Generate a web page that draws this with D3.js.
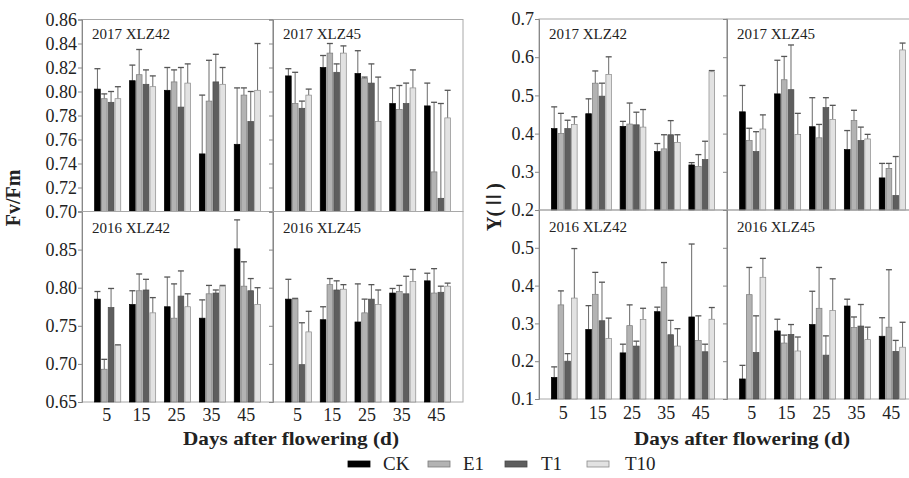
<!DOCTYPE html>
<head>
<meta charset="utf-8">
<style>
body { margin: 0; background: #fff; }
svg text { font-family: "Liberation Serif", "Times New Roman", serif; fill: #222; }
</style>
</head>
<body>
<script src="https://d3js.org/d3.v7.min.js"></script>
<script>
// categories
var days = [5, 15, 25, 35, 45];
var treatments = ["CK", "E1", "T1", "T10"];

// Fv/Fm, rows = CK, E1, T1, T10 ; columns = days
var fv2017_42 = [[0.802, 0.809, 0.801, 0.748, 0.756], [0.794, 0.814, 0.808, 0.792, 0.797], [0.791, 0.806, 0.787, 0.808, 0.775], [0.794, 0.804, 0.807, 0.806, 0.801]];
var fv2017_42sd = [[0.017, 0.013, 0.019, 0.049, 0.047], [0.004, 0.021, 0.010, 0.034, 0.006], [0.009, 0.012, 0.033, 0.023, 0.025], [0.010, 0.009, 0.016, 0.014, 0.039]];
var fv2017_45 = [[0.813, 0.820, 0.815, 0.790, 0.788], [0.790, 0.832, 0.811, 0.785, 0.733], [0.786, 0.816, 0.807, 0.790, 0.711], [0.797, 0.832, 0.775, 0.803, 0.778]];
var fv2017_45sd = [[0.006, 0.010, 0.019, 0.013, 0.019], [0.026, 0.008, 0.001, 0.020, 0.058], [0.006, 0.007, 0.016, 0.017, 0.079], [0.005, 0.006, 0.037, 0.015, 0.023]];
var fv2016_42 = [[0.785, 0.778, 0.775, 0.760, 0.851], [0.693, 0.796, 0.760, 0.792, 0.802], [0.774, 0.797, 0.789, 0.793, 0.796], [0.724, 0.767, 0.775, 0.802, 0.778]];
var fv2016_42sd = [[0.010, 0.018, 0.039, 0.024, 0.038], [0.013, 0.022, 0.045, 0.011, 0.032], [0.025, 0.014, 0.033, 0.004, 0.016], [0.001, 0.020, 0.017, 0.001, 0.022]];
var fv2016_45 = [[0.785, 0.758, 0.755, 0.793, 0.809], [0.785, 0.804, 0.767, 0.795, 0.793], [0.699, 0.797, 0.785, 0.792, 0.794], [0.742, 0.798, 0.778, 0.808, 0.802]];
var fv2016_45sd = [[0.026, 0.017, 0.050, 0.006, 0.010], [0.001, 0.008, 0.018, 0.008, 0.032], [0.055, 0.012, 0.019, 0.023, 0.008], [0.027, 0.006, 0.019, 0.016, 0.004]];

// Y(II)
var y2017_42 = [[0.413, 0.452, 0.419, 0.353, 0.318], [0.400, 0.532, 0.425, 0.360, 0.314], [0.413, 0.498, 0.423, 0.397, 0.332], [0.424, 0.555, 0.417, 0.377, 0.562]];
var y2017_42sd = [[0.057, 0.039, 0.013, 0.021, 0.006], [0.053, 0.032, 0.055, 0.037, 0.031], [0.022, 0.034, 0.033, 0.037, 0.048], [0.020, 0.046, 0.046, 0.020, 0.003]];
var y2017_45 = [[0.457, 0.504, 0.418, 0.358, 0.284], [0.382, 0.541, 0.389, 0.434, 0.309], [0.353, 0.515, 0.468, 0.382, 0.238], [0.412, 0.398, 0.437, 0.386, 0.619]];
var y2017_45sd = [[0.069, 0.088, 0.076, 0.050, 0.038], [0.032, 0.061, 0.035, 0.027, 0.013], [0.052, 0.117, 0.026, 0.035, 0.102], [0.037, 0.055, 0.037, 0.012, 0.018]];
var y2016_42 = [[0.157, 0.284, 0.222, 0.331, 0.317], [0.349, 0.377, 0.294, 0.396, 0.255], [0.200, 0.307, 0.240, 0.270, 0.225], [0.367, 0.260, 0.310, 0.240, 0.311]];
var y2016_42sd = [[0.028, 0.063, 0.023, 0.012, 0.193], [0.037, 0.058, 0.055, 0.065, 0.065], [0.020, 0.102, 0.013, 0.038, 0.020], [0.131, 0.054, 0.030, 0.046, 0.031]];
var y2016_45 = [[0.153, 0.280, 0.297, 0.346, 0.266], [0.376, 0.248, 0.340, 0.289, 0.290], [0.223, 0.271, 0.216, 0.293, 0.226], [0.422, 0.227, 0.334, 0.257, 0.237]];
var y2016_45sd = [[0.036, 0.031, 0.088, 0.018, 0.049], [0.072, 0.021, 0.108, 0.028, 0.152], [0.097, 0.026, 0.051, 0.057, 0.029], [0.050, 0.037, 0.084, 0.033, 0.066]];

// tick values
var fvTopTicks = [0.70, 0.72, 0.74, 0.76, 0.78, 0.80, 0.82, 0.84, 0.86];
var fvBottomTicks = [0.65, 0.70, 0.75, 0.80, 0.85];
var yTopTicks = [0.2, 0.3, 0.4, 0.5, 0.6, 0.7];
var yBottomTicks = [0.1, 0.2, 0.3, 0.4, 0.5];

(function() {
	var W = 909, H = 478;
	var serif = "Liberation Serif, Times New Roman, serif";
	var fills = ["#000000", "#b3b3b3", "#5e5e5e", "#e2e2e2"];
	var strokes = ["#000000", "#7a7a7a", "#4a4a4a", "#8a8a8a"];

	var svg = d3.select("body").append("svg")
		.attr("width", W)
		.attr("height", H)
		.attr("font-family", serif);

	svg.append("defs").append("clipPath").attr("id", "page")
		.append("rect").attr("width", W).attr("height", H);

	function drawPanel(opt) {
		var g = svg.append("g").attr("clip-path", "url(#page)");

		var x = d3.scaleBand()
			.domain(days)
			.range([opt.x0, opt.x1])
			.paddingInner(0.25)
			.paddingOuter(0.36);

		var xs = d3.scaleBand()
			.domain(treatments)
			.range([0, x.bandwidth()])
			.paddingInner(0.16);

		var y = d3.scaleLinear()
			.domain(opt.domain)
			.range([opt.y1, opt.y0]);

		// frame
		g.append("rect")
			.attr("x", opt.x0)
			.attr("y", opt.y0)
			.attr("width", opt.x1 - opt.x0)
			.attr("height", opt.y1 - opt.y0)
			.attr("fill", "none")
			.attr("stroke", "#a8a8a8")
			.attr("stroke-width", 1);

		// bars + error bars (upper only)
		treatments.forEach(function(t, i) {
			var rows = days.map(function(d, j) {
				return {day: d, v: opt.means[i][j], sd: opt.sds[i][j]};
			});
			var bx = function(d) { return x(d.day) + xs(t); };
			var cx = function(d) { return x(d.day) + xs(t) + xs.bandwidth() / 2; };

			g.selectAll(null).data(rows).enter().append("line")
				.attr("x1", cx).attr("x2", cx)
				.attr("y1", function(d) { return y(d.v); })
				.attr("y2", function(d) { return y(d.v + d.sd); })
				.attr("stroke", "#6a6a6a")
				.attr("stroke-width", 1);

			g.selectAll(null).data(rows).enter().append("line")
				.attr("x1", function(d) { return cx(d) - 3; })
				.attr("x2", function(d) { return cx(d) + 3; })
				.attr("y1", function(d) { return y(d.v + d.sd); })
				.attr("y2", function(d) { return y(d.v + d.sd); })
				.attr("stroke", "#555")
				.attr("stroke-width", 1.3);

			g.selectAll(null).data(rows).enter().append("rect")
				.attr("x", bx)
				.attr("y", function(d) { return y(d.v); })
				.attr("width", xs.bandwidth())
				.attr("height", function(d) { return opt.y1 - y(d.v); })
				.attr("fill", fills[i])
				.attr("stroke", strokes[i])
				.attr("stroke-width", 0.7);
		});

		// y axis
		var ax = g.append("g")
			.attr("transform", "translate(" + opt.x0 + ",0)")
			.call(d3.axisLeft(y)
				.tickValues(opt.ticks)
				.tickSize(4)
				.tickPadding(1)
				.tickFormat(opt.showY ? d3.format(opt.fmt) : ""));
		ax.attr("font-family", serif).attr("font-size", 18);
		ax.select(".domain").attr("stroke", "#888");
		ax.selectAll(".tick line").attr("stroke", "#888");
		ax.selectAll("text").attr("fill", "#222");

		// x tick labels
		if (opt.showX) {
			g.selectAll(null).data(days).enter().append("text")
				.attr("x", function(d) { return x(d) + x.bandwidth() / 2 - 1; })
				.attr("y", opt.y1 + opt.xLabelDy)
				.attr("text-anchor", "middle")
				.attr("font-size", 18)
				.text(function(d) { return d; });
		}

		g.append("text")
			.attr("x", opt.x0 + 10)
			.attr("y", opt.y0 + opt.labelDy)
			.attr("font-size", 15)
			.text(opt.label);
	}

	// left chart : Fv/Fm
	var L = {x0: 82, xm: 273, x1: 463, y0: 19.5, ym: 211.5, y1: 402};
	drawPanel({x0: L.x0, x1: L.xm, y0: L.y0, y1: L.ym, domain: [0.70, 0.86], ticks: fvTopTicks, fmt: ".2f", showY: true, showX: false,
		means: fv2017_42, sds: fv2017_42sd, label: "2017 XLZ42", labelDy: 19});
	drawPanel({x0: L.xm, x1: L.x1, y0: L.y0, y1: L.ym, domain: [0.70, 0.86], ticks: fvTopTicks, fmt: ".2f", showY: false, showX: false,
		means: fv2017_45, sds: fv2017_45sd, label: "2017 XLZ45", labelDy: 19});
	drawPanel({x0: L.x0, x1: L.xm, y0: L.ym, y1: L.y1, domain: [0.65, 0.90], ticks: fvBottomTicks, fmt: ".2f", showY: true, showX: true, xLabelDy: 19,
		means: fv2016_42, sds: fv2016_42sd, label: "2016 XLZ42", labelDy: 21});
	drawPanel({x0: L.xm, x1: L.x1, y0: L.ym, y1: L.y1, domain: [0.65, 0.90], ticks: fvBottomTicks, fmt: ".2f", showY: false, showX: true, xLabelDy: 19,
		means: fv2016_45, sds: fv2016_45sd, label: "2016 XLZ45", labelDy: 21});

	// right chart : Y(II)
	var R = {x0: 539, xm: 727, x1: 918, y0: 19, ym: 210, y1: 399};
	drawPanel({x0: R.x0, x1: R.xm, y0: R.y0, y1: R.ym, domain: [0.2, 0.7], ticks: yTopTicks, fmt: ".1f", showY: true, showX: false,
		means: y2017_42, sds: y2017_42sd, label: "2017 XLZ42", labelDy: 20});
	drawPanel({x0: R.xm, x1: R.x1, y0: R.y0, y1: R.ym, domain: [0.2, 0.7], ticks: yTopTicks, fmt: ".1f", showY: false, showX: false,
		means: y2017_45, sds: y2017_45sd, label: "2017 XLZ45", labelDy: 20});
	drawPanel({x0: R.x0, x1: R.xm, y0: R.ym, y1: R.y1, domain: [0.1, 0.6], ticks: yBottomTicks, fmt: ".1f", showY: true, showX: true, xLabelDy: 20,
		means: y2016_42, sds: y2016_42sd, label: "2016 XLZ42", labelDy: 22});
	drawPanel({x0: R.xm, x1: R.x1, y0: R.ym, y1: R.y1, domain: [0.1, 0.6], ticks: yBottomTicks, fmt: ".1f", showY: false, showX: true, xLabelDy: 20,
		means: y2016_45, sds: y2016_45sd, label: "2016 XLZ45", labelDy: 22});

	// axis titles
	svg.append("text")
		.attr("transform", "translate(20,198) rotate(-90)")
		.attr("text-anchor", "middle")
		.attr("font-size", 20).attr("font-weight", "bold")
		.text("Fv/Fm");
	var yt = svg.append("text")
		.attr("transform", "translate(501,207) rotate(-90)")
		.attr("text-anchor", "middle")
		.attr("font-size", 20).attr("font-weight", "bold");
	yt.append("tspan").text("Y(");
	yt.append("tspan").style("font-family", "'Noto Sans CJK SC'").attr("font-weight", "normal").text("\u2161");
	yt.append("tspan").text(")");

	[291, 742].forEach(function(cx) {
		svg.append("text")
			.attr("x", cx).attr("y", 445)
			.attr("text-anchor", "middle")
			.attr("font-size", 19).attr("font-weight", "bold")
			.attr("textLength", 216).attr("lengthAdjust", "spacingAndGlyphs")
			.text("Days after flowering (d)");
	});

	// legend
	var legX = [348, 428, 505, 587];
	var legend = svg.selectAll(".leg").data(treatments).enter().append("g")
		.attr("class", "leg")
		.attr("transform", function(d, i) { return "translate(" + legX[i] + ",461)"; });
	legend.append("rect")
		.attr("width", 22).attr("height", 6)
		.attr("fill", function(d, i) { return fills[i]; })
		.attr("stroke", function(d, i) { return strokes[i]; })
		.attr("stroke-width", 0.8);
	legend.append("text")
		.attr("x", function(d, i) { return [35, 35, 36, 38][i]; })
		.attr("y", 9)
		.attr("font-size", 19)
		.text(function(d) { return d; });
})();
</script>
</body>
